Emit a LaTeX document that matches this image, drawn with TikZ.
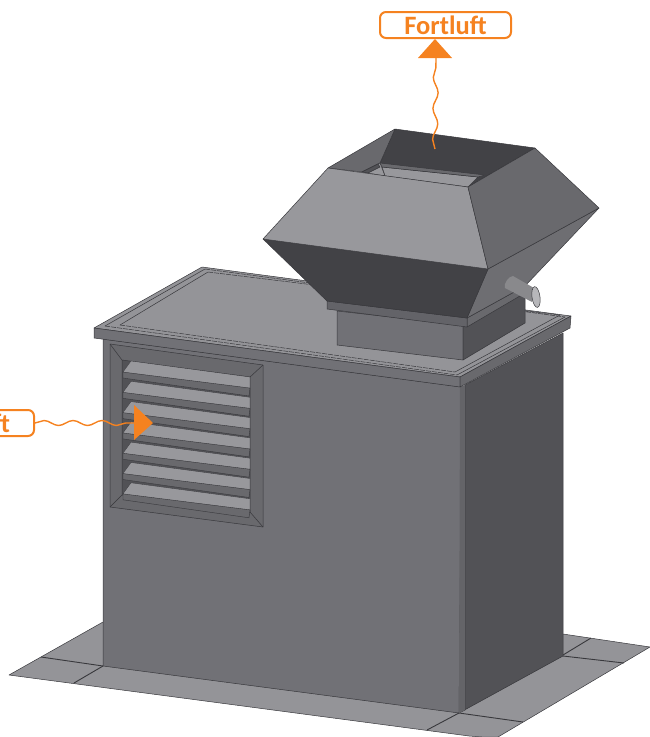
\documentclass[tikz,border=0pt]{standalone}
\usepackage{fontspec}
\newfontfamily\tagfont{Carlito}
\usetikzlibrary{decorations.pathmorphing}
\definecolor{flowcol}{HTML}{F58220}
\definecolor{edgecol}{HTML}{38383C}
\definecolor{platecol}{HTML}{949498}
\definecolor{frontcol}{HTML}{717176}
\definecolor{sidecol}{HTML}{525256}
\definecolor{darkcol}{HTML}{424246}
\definecolor{lightcol}{HTML}{98989C}
\definecolor{midcol}{HTML}{69696D}
\tikzset{
  face/.style={fill=#1, draw=edgecol, line width=0.5pt, line join=round},
  rimline/.style={draw=edgecol, line width=0.5pt},
  tag/.style={draw=flowcol, line width=2pt, rounded corners=6pt, fill=white, text=flowcol,
    minimum width=131pt, minimum height=26pt, inner sep=0pt,
    font=\tagfont\bfseries\fontsize{26.5}{26.5}\selectfont},
  flow/.style={draw=flowcol, line width=1.4pt, decorate,
    decoration={snake, amplitude=2.5pt, segment length=#1}},
}
\begin{document}
\begin{tikzpicture}[x=1pt, y=-1pt]
  \useasboundingbox (0,0) rectangle (650,737);
  % ground plate
  \path[face=platecol] (103,622) -- (9,675) -- (469,736) -- (482,737) -- (498,737) -- (650,647) -- (563,634) -- cycle;
  \draw[rimline, line width=0.9pt] (41,657) -- (103,666) (459,713) -- (523,722) (563,656) -- (624,663);
  \draw[rimline, line width=0.9pt] (74,683) -- (103,666) (427,730) -- (459,713) (563,655) -- (591,638);
  % housing
  \path[face=frontcol] (103,339) -- (462,387) -- (459,713) -- (103,666) -- cycle;
  \path[face=sidecol] (465,385) -- (563,333) -- (563,656) -- (459,713) -- (465,710) -- cycle;
  \path[fill=midcol!80!sidecol] (460,387) -- (465,385) -- (465,710) -- (459,713) -- cycle;
  % roof
  \path[face=platecol] (202,267) -- (571,316) -- (460,377) -- (94,328) -- cycle;
  \path[face=frontcol] (94,328) -- (460,377) -- (460,387) -- (94,338) -- cycle;
  \path[face=midcol] (460,377) -- (571,316) -- (570,328) -- (460,387) -- cycle;
  \draw[rimline] (205,269) -- (105,326) (208,272) -- (120,325) (457,375) -- (565,317) (455,372) -- (560,315);
  \draw[rimline, dashed, dash pattern=on 5pt off 1pt] (105,326) -- (457,375) (120,325) -- (455,372) (205,269) -- (565,317) (208,272) -- (560,315);
  % louver
  \path[face=midcol] (110,344) -- (263,365) -- (263,527) -- (110,507) -- cycle;
  \path[face=sidecol] (122,360) -- (250,377) -- (250,512) -- (122,495) -- cycle;
  \draw[rimline] (110,344) -- (122,360) (263,365) -- (250,377) (263,527) -- (250,512) (110,507) -- (122,495);
  \foreach \i in {0,...,6} {
    \begin{scope}[yshift=-20.3*\i pt]
      \path[fill=midcol, draw=edgecol, line width=0.4pt] (123,372) -- (250,388) -- (249,396) -- (123,378) -- cycle;
      \path[fill=lightcol, draw=edgecol, line width=0.3pt] (131,361) -- (250,377) -- (250,388) -- (123,372) -- cycle;
    \end{scope}
  }
  % curb and collar
  \path[face=frontcol] (337,311) -- (463,325) -- (463,360) -- (337,345) -- cycle;
  \path[face=sidecol] (463,325) -- (525,293) -- (525,323) -- (463,360) -- cycle;
  \path[face=midcol] (467,318) -- (525,286) -- (525,293) -- (467,327) -- cycle;
  \path[face=frontcol!110] (327,301) -- (467,318) -- (467,327) -- (327,309) -- cycle;
  % hood, lower part
  \path[face=midcol!90!lightcol] (488,269) -- (599,208) -- (525,286) -- (467,318) -- cycle;
  \path[face=darkcol] (263,239) -- (488,269) -- (467,318) -- (327,301) -- cycle;
  % hood, opening
  \path[face=darkcol] (395,129) -- (535,148) -- (468,187) -- (380,163) -- cycle;
  \path[face=midcol] (395,129) -- (380,163) -- (362,172) -- (328,168) -- cycle;
  \path[face=lightcol] (382,167) -- (478,177) -- (468,187) -- (385,176) -- cycle;
  \path[face=midcol] (380,163) -- (485,175) -- (478,177) -- (382,167) -- cycle;
  \path[face=lightcol] (362,172) -- (380,163) -- (385,176) -- cycle;
  \path[face=sidecol] (362,172) -- (378,164) -- (380,167) -- (368,173) -- cycle;
  % hood, upper part
  \path[face=lightcol] (328,168) -- (468,187) -- (488,269) -- (263,239) -- cycle;
  \path[face=midcol] (468,187) -- (535,148) -- (599,208) -- (488,269) -- cycle;
  % drain pipe
  \path[fill=lightcol!90!black] (513,276) -- (534,288) -- (532,302) -- (505,288) .. controls (503,284) and (509,276) .. (513,276) -- cycle;
  \path[fill=lightcol!70!white, draw=edgecol, line width=0.5pt, rotate around={8:(536,297)}] (536,297) ellipse [x radius=4pt, y radius=10.5pt];
  % air flow
  \node[tag] (outlet) at (445.5,25) {Fortluft};
  \node[tag, text width=83pt, align=right] (inlet) at (-31.5,423) {ft};
  \coordinate (ventout) at (435,149);
  \coordinate (tipout) at (436,58);
  \coordinate (tipin) at (134,423);
  \draw[flow=31pt] (ventout) -- (tipout);
  \draw[flow=29pt] (inlet.east) -- (tipin);
  \fill[flowcol] (418,58) -- (435,39) -- (452,58) -- cycle;
  \fill[flowcol] (134,405) -- (153,423) -- (134,440) -- cycle;
\end{tikzpicture}
\end{document}
